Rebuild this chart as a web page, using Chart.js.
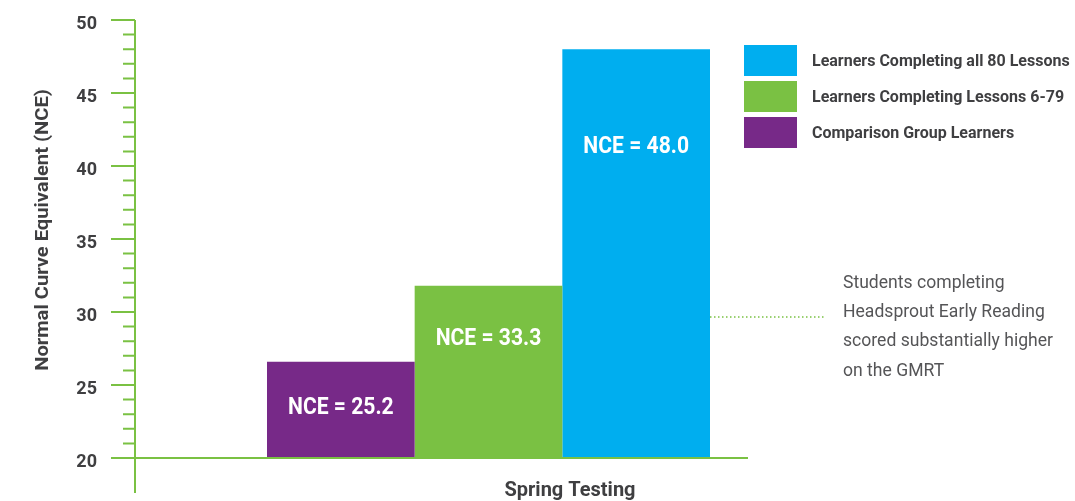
<!DOCTYPE html>
<html>
<head>
<meta charset="utf-8">
<script src="https://cdn.jsdelivr.net/npm/chart.js"></script>
<style>
  html, body { margin: 0; padding: 0; background: #fff; }
</style>
</head>
<body>
<canvas id="nceChart" width="1075" height="501"></canvas>
<script>
// values
var categories = ['Spring Testing'];
var groupNames = ['Comparison Group Learners', 'Learners Completing Lessons 6-79', 'Learners Completing all 80 Lessons'];
var barValues = [26.6, 31.8, 48.0];
var barLabels = ['NCE = 25.2', 'NCE = 33.3', 'NCE = 48.0'];
var groupColors = ['#772988', '#7ac143', '#00aeef'];
var yTicks = [20, 25, 30, 35, 40, 45, 50];
var noteLines = ['Students completing', 'Headsprout Early Reading', 'scored substantially higher', 'on the GMRT'];

var axisGreen = '#7ac143';
var textDark = '#3f3f41';
var FONT = "Roboto, 'Noto Sans', sans-serif";

// draw text squeezed horizontally (the original uses a narrow face)
function squeezeText(ctx, text, x, y, sx, align) {
    ctx.save();
    ctx.translate(x, y);
    ctx.scale(sx, 1);
    ctx.textAlign = align;
    ctx.fillText(text, 0, 0);
    ctx.restore();
}

var decor = {
    id: 'decor',
    afterDatasetsDraw: function(chart, args, opts) {
        var ctx = chart.ctx;
        var area = chart.chartArea;
        var y = chart.scales.y;
        var base = y.getPixelForValue(y.min);
        ctx.save();

        // axes
        ctx.strokeStyle = axisGreen;
        ctx.lineWidth = 2;
        ctx.beginPath();
        ctx.moveTo(area.left - 24, base);
        ctx.lineTo(opts.axisEnd, base);
        ctx.moveTo(area.left, area.top);
        ctx.lineTo(area.left, base + 35);
        for (var v = y.min; v <= y.max; v++) {
            var py = y.getPixelForValue(v);
            var len = v % 5 === 0 ? 24 : 12;
            ctx.moveTo(area.left - len, py);
            ctx.lineTo(area.left, py);
        }
        ctx.stroke();

        // tick labels
        ctx.fillStyle = textDark;
        ctx.font = 'bold 18px ' + FONT;
        ctx.textBaseline = 'middle';
        yTicks.forEach(function(t) {
            squeezeText(ctx, String(t), area.left - 38, y.getPixelForValue(t) + 4, 1, 'right');
        });

        // y title
        ctx.save();
        ctx.translate(43, 230);
        ctx.rotate(-Math.PI / 2);
        ctx.font = 'bold 19px ' + FONT;
        squeezeText(ctx, 'Normal Curve Equivalent (NCE)', 0, 0, 1.06, 'center');
        ctx.restore();

        // x title
        ctx.font = 'bold 20px ' + FONT;
        squeezeText(ctx, categories[0], opts.xTitleAt, 491, 1.0, 'center');

        // labels inside bars
        ctx.fillStyle = '#ffffff';
        ctx.font = 'bold 24px ' + FONT;
        chart.data.datasets.forEach(function(ds, i) {
            var bar = chart.getDatasetMeta(i).data[0];
            squeezeText(ctx, barLabels[i], bar.x, y.getPixelForValue(opts.labelAt[i]), 0.88, 'center');
        });

        // legend, top entry is the last dataset
        var n = chart.data.datasets.length;
        for (var k = 0; k < n; k++) {
            var ds = chart.data.datasets[n - 1 - k];
            var top = 45 + k * 36;
            ctx.fillStyle = ds.backgroundColor;
            ctx.fillRect(744, top, 53, 31);
            ctx.fillStyle = textDark;
            ctx.font = 'bold 16px ' + FONT;
            squeezeText(ctx, ds.label, 812, top + 17, 1.0, 'left');
        }

        // note with dotted leader
        var lastBar = chart.getDatasetMeta(n - 1).data[0];
        ctx.strokeStyle = axisGreen;
        ctx.lineWidth = 1.5;
        ctx.setLineDash([1.5, 2.5]);
        ctx.beginPath();
        ctx.moveTo(lastBar.x + lastBar.width / 2, 317);
        ctx.lineTo(826, 317);
        ctx.stroke();
        ctx.setLineDash([]);
        ctx.fillStyle = '#555557';
        ctx.font = '19px ' + FONT;
        noteLines.forEach(function(line, i) {
            squeezeText(ctx, line, 843, 283 + i * 29.3, 0.925, 'left');
        });

        ctx.restore();
    }
};

var ctx = document.getElementById('nceChart').getContext('2d');
var chart = new Chart(ctx, {
    type: 'bar',
    data: {
        labels: categories,
        datasets: groupNames.map(function(name, i) {
            return {
                label: name,
                data: [barValues[i]],
                backgroundColor: groupColors[i],
                borderWidth: 0,
                categoryPercentage: 0.6266,
                barPercentage: 1
            };
        })
    },
    options: {
        responsive: false,
        animation: false,
        layout: { padding: { left: 135, top: 20, right: 233, bottom: 43 } },
        scales: {
            x: { display: false },
            y: { display: false, min: 20, max: 50 }
        },
        plugins: {
            legend: { display: false },
            tooltip: { enabled: false },
            decor: { axisEnd: 748, xTitleAt: 570, labelAt: [23.4, 28.15, 41.3] }
        }
    },
    plugins: [decor]
});
</script>
</body>
</html>
